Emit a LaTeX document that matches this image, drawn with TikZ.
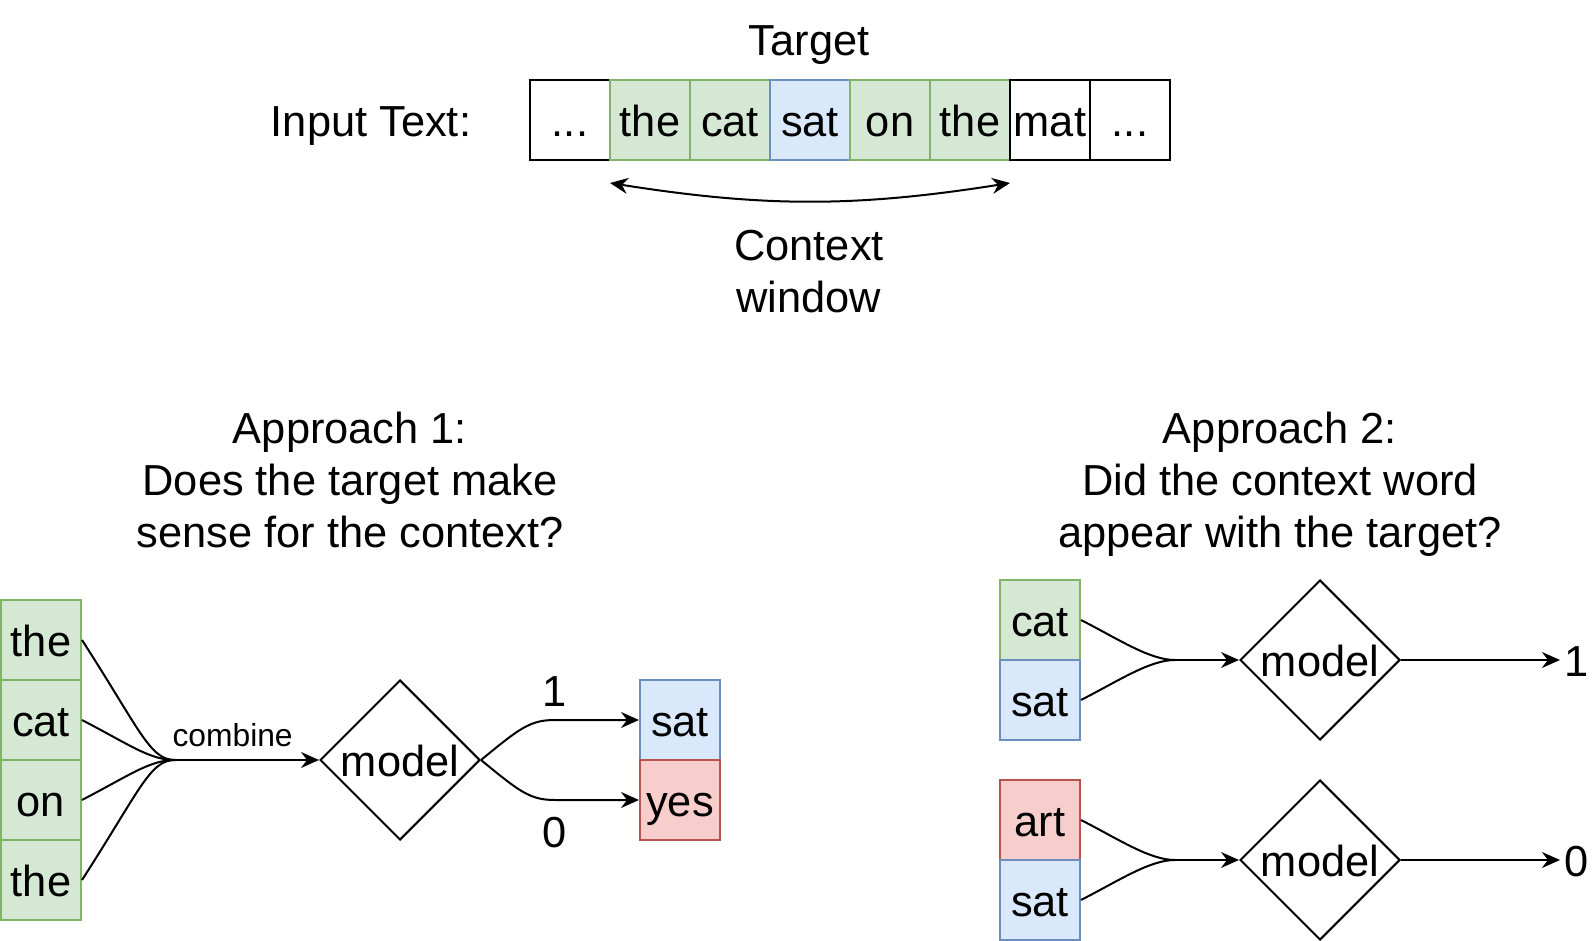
\documentclass[tikz,border=0pt]{standalone}
\usepackage{fontspec}
\setmainfont{Liberation Sans}
\usetikzlibrary{shapes.geometric,arrows.meta}

\definecolor{ctxfill}{HTML}{D5E8D4}
\definecolor{ctxline}{HTML}{82B366}
\definecolor{tgtfill}{HTML}{DAE8FC}
\definecolor{tgtline}{HTML}{6C8EBF}
\definecolor{negfill}{HTML}{F8CECC}
\definecolor{negline}{HTML}{B85450}

\begin{document}
\begin{tikzpicture}[x=0.5pt, y=-0.5pt, line width=1pt,
  font=\fontsize{21.7}{26}\selectfont,
  word/.style={draw, minimum width=40pt, minimum height=40pt, inner sep=0pt, text height=16.5pt, text depth=0pt},
  ctxword/.style={word, fill=ctxfill, draw=ctxline},
  tgtword/.style={word, fill=tgtfill, draw=tgtline},
  negword/.style={word, fill=negfill, draw=negline},
  model/.style={draw, diamond, minimum width=80pt, minimum height=80pt, inner sep=0pt, text height=16.5pt, text depth=0pt},
  flow/.style={-{Stealth[length=9pt, width=8pt, inset=3pt]}}]
  \useasboundingbox (0, 0) rectangle (1592, 941);

  \node (target) at (809, 45) {Target};
  \node (input) at (371, 126) {Input Text:};
  \node[word] (w0) at (570, 120) {...};
  \node[ctxword] (w1) at (650, 120) {the};
  \node[ctxword] (w2) at (730, 120) {cat};
  \node[tgtword] (w3) at (810, 120) {sat};
  \node[ctxword] (w4) at (890, 120) {on};
  \node[ctxword] (w5) at (970, 120) {the};
  \node[word] (w6) at (1050, 120) {mat};
  \node[word] (w7) at (1130, 120) {...};

  \coordinate (winl) at (610, 183);
  \coordinate (winr) at (1010, 183);
  \draw[{Stealth[length=9pt, width=8pt, inset=3pt]}-{Stealth[length=9pt, width=8pt, inset=3pt]}] (winl) to[bend right=9] (winr);
  \node[align=center] (window) at (809, 272) {Context\\window};

  % approach 1
  \node[align=center] (app1) at (350, 480) {Approach 1:\\Does the target make\\sense for the context?};
  \node[ctxword] (a1) at (41, 640) {the};
  \node[ctxword] (a2) at (41, 720) {cat};
  \node[ctxword] (a3) at (41, 800) {on};
  \node[ctxword] (a4) at (41, 880) {the};
  \coordinate (join1) at (175, 760);
  \draw (a1.east) .. controls (140, 730) and (150, 760) .. (join1);
  \draw (a2.east) .. controls (130, 745) and (150, 760) .. (join1);
  \draw (a3.east) .. controls (130, 775) and (150, 760) .. (join1);
  \draw (a4.east) .. controls (140, 790) and (150, 760) .. (join1);
  \node[model] (m1) at (400, 760) {model};
  \draw[flow] (join1) -- (m1.west) node[pos=0.4, above=3pt, font=\fontsize{15.9}{19}\selectfont] {combine};
  \node[tgtword] (out1) at (680, 720) {sat};
  \node[negword] (out0) at (680, 800) {yes};
  \draw[flow] (m1.east) .. controls (520, 728) and (530, 720) .. (555, 720) node[above=3pt] {1} -- (out1.west);
  \draw[flow] (m1.east) .. controls (520, 792) and (530, 800) .. (555, 800) node[below=5pt] {0} -- (out0.west);

  % approach 2
  \node[align=center] (app2) at (1280, 484) {Approach 2:\\Did the context word\\appear with the target?};
  \node[ctxword] (p1) at (1040, 620) {cat};
  \node[tgtword] (p2) at (1040, 700) {sat};
  \node[negword] (n1) at (1040, 820) {art};
  \node[tgtword] (n2) at (1040, 900) {sat};
  \coordinate (join2) at (1175, 660);
  \coordinate (join3) at (1175, 860);
  \draw (p1.east) .. controls (1120, 640) and (1150, 660) .. (join2);
  \draw (p2.east) .. controls (1120, 680) and (1150, 660) .. (join2);
  \draw (n1.east) .. controls (1120, 840) and (1150, 860) .. (join3);
  \draw (n2.east) .. controls (1120, 880) and (1150, 860) .. (join3);
  \node[model] (m2) at (1320, 660) {model};
  \node[model] (m3) at (1320, 860) {model};
  \draw[flow] (join2) -- (m2.west);
  \draw[flow] (join3) -- (m3.west);
  \node[inner sep=2pt, text height=16.5pt, text depth=0pt] (yes2) at (1577, 660) {1};
  \node[inner sep=2pt, text height=16.5pt, text depth=0pt] (no2) at (1577, 860) {0};
  \draw[flow] (m2.east) -- (yes2.west);
  \draw[flow] (m3.east) -- (no2.west);
\end{tikzpicture}
\end{document}
